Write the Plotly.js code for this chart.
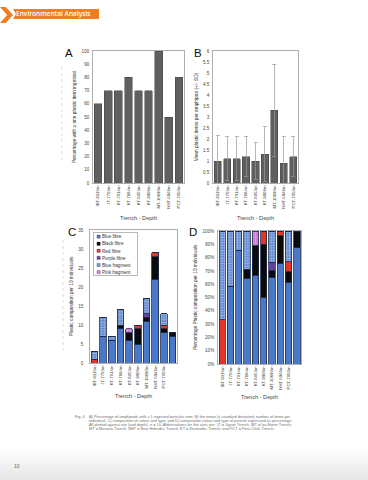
<!DOCTYPE html>
<html><head><meta charset="utf-8">
<script src="https://cdn.plot.ly/plotly-3.0.1.min.js"></script>
<style>
html,body{margin:0;padding:0;width:368px;height:480px;overflow:hidden;
 background:linear-gradient(to bottom,#ffffff 0px,#ffffff 448px,#e6e6e6 480px);}
#chart{position:absolute;left:0;top:0;width:368px;height:480px;}
#chev{position:absolute;left:0;top:7px;width:13px;height:16px;background:#ef7d22;
 clip-path:polygon(0 0,45% 0,100% 50%,45% 100%,0 100%,55% 50%);}
#hdr{position:absolute;left:13px;top:9px;width:86px;height:10px;background:#ef7d22;
 clip-path:polygon(0 0,100% 0,100% 100%,0 100%,3px 50%);}
#hdrtxt{position:absolute;left:16px;top:9px;height:10px;line-height:10px;color:#fff;
 font-family:"Open Sans",sans-serif;font-weight:600;font-size:6.6px;white-space:nowrap;}
</style></head>
<body>
<div id="chart"></div>
<div id="chev"></div><div id="hdr"></div><div id="hdrtxt">Environmental Analysis</div>
<script>
// ---------- data ----------
const sitesAB = ['IBT-9316m','JT-7703m','KT-7014m','KT-7884m','KT-8053m','KT-9908m','MT-10890m','NHT-6948m','PCT-7050m'];
const pctIngested = [60,70,70,80,70,70,100,50,80];
const meanItems = [1.0,1.1,1.1,1.2,1.0,1.3,3.3,0.9,1.2];
const sdItems = [1.15,1.0,1.0,0.9,0.82,1.25,2.1,1.2,0.9];

const sitesCD = ['IBT-9316m','JT-7703m','KT-7014m','KT-7884m','KT-8053m','KT-9908m','MT-10890m','NHT-6948m','PCT-7050m',' '];
const typeNames = ['Blue fibre','Black fibre','Red fibre','Purple fibre','Blue fragment','Pink fragment'];
const blueFibre   = [0,7,6,9,6,5,11,22,8,7];
const blackFibre  = [0,0,0,1,2,4,1,6,1,1];
const redFibre    = [1,0,0,0,0,1,0,1,1,0];
const purpleFibre = [0,0,0,0,0,0,1,0,0,0];
const blueFrag    = [2,5,1,4,0,0,4,0,3,0];
const pinkFrag    = [0,0,0,0,1,0,0,0,0,0];

const blueFibrePct   = [0,58.3,85.7,64.3,66.7,50,64.7,75.9,61.5,87.5];
const blackFibrePct  = [0,0,0,7.1,22.2,40,5.9,20.7,7.7,12.5];
const redFibrePct    = [33.3,0,0,0,0,10,0,3.4,7.7,0];
const purpleFibrePct = [0,0,0,0,0,0,5.9,0,0,0];
const blueFragPct    = [66.7,41.7,14.3,28.6,0,0,23.5,0,23.1,0];
const pinkFragPct    = [0,0,0,0,11.1,0,0,0,0,0];

// ---------- styles ----------
const W=368,H=480;
const px=v=>v/W, py=v=>1-v/H;
const FONT='Liberation Sans, Arial, sans-serif';
const tickF={family:FONT,size:4.6,color:'#444'};
const xtickF={family:FONT,size:4.3,color:'#444'};
const titleF={family:FONT,size:4.8,color:'#333'};
const grayBar={color:'#5f5f5f',line:{color:'#454545',width:0.5}};
const outl={color:'#1d2b4a',width:0.8};
const styles=[
 {color:'#4a78c8'},
 {color:'#0b0b0b'},
 {color:'#e2362a'},
 {color:'#6a3fa3'},
 {color:'#4a78c8',pattern:{shape:'.',fgcolor:'#ffffff',size:2.6,solidity:0.5,fillmode:'overlay'}},
 {color:'#c45ac4',pattern:{shape:'.',fgcolor:'#ffffff',size:2.6,solidity:0.5,fillmode:'overlay'}}
];
const cVals=[blueFibre,blackFibre,redFibre,purpleFibre,blueFrag,pinkFrag];
const dVals=[blueFibrePct,blackFibrePct,redFibrePct,purpleFibrePct,blueFragPct,pinkFragPct];

const traces=[];
traces.push({type:'bar',x:sitesAB,y:pctIngested,xaxis:'x',yaxis:'y',marker:grayBar,showlegend:false});
traces.push({type:'bar',x:sitesAB,y:meanItems,xaxis:'x2',yaxis:'y2',marker:grayBar,showlegend:false,
  error_y:{type:'data',array:sdItems,visible:true,color:'#9a9a9a',thickness:0.7,width:2}});
typeNames.forEach((n,i)=>{
  traces.push({type:'bar',name:n,x:sitesCD,y:cVals[i],xaxis:'x3',yaxis:'y3',
    marker:Object.assign({line:outl},styles[i]),showlegend:true});
});
typeNames.forEach((n,i)=>{
  traces.push({type:'bar',name:n,x:sitesCD,y:dVals[i],xaxis:'x4',yaxis:'y4',
    marker:Object.assign({line:outl},styles[i]),showlegend:false});
});

function xax(d,anchor,so){return {domain:d,anchor:anchor,type:'category',tickangle:-90,tickfont:xtickF,
  showline:true,mirror:true,linecolor:'#9a9a9a',linewidth:0.8,ticks:'',showgrid:false,fixedrange:true,
  title:{text:'Trench - Depth',font:{family:FONT,size:5.6,color:'#444'},standoff:so}};}
function yax(d,anchor,range,dtick,title,extra){return Object.assign({domain:d,anchor:anchor,range:range,dtick:dtick,
  tickfont:tickF,showline:true,mirror:true,linecolor:'#9a9a9a',linewidth:0.8,ticks:'',showgrid:false,
  zeroline:false,fixedrange:true,ticklabelstandoff:2,
  title:{text:title,font:titleF,standoff:4}},extra||{});}

const yA=[py(183),py(51)], yC=[py(363),py(230)], yD=[py(364),py(231)];
const layout={
 width:W,height:H,margin:{l:0,r:0,t:0,b:0},
 paper_bgcolor:'rgba(0,0,0,0)',plot_bgcolor:'#ffffff',
 barmode:'stack',bargap:0.24,
 font:{family:FONT},
 xaxis:xax([px(93),px(184)],'y',8),
 yaxis:yax(yA,'x',[0,100],10,'Percentage with ≥ one plastic item ingested'),
 xaxis2:xax([px(213),px(298)],'y2',8),
 yaxis2:yax(yA,'x2',[0,6],0.5,'Mean plastic items per amphipod (+/- SD)'),
 xaxis3:xax([px(90),px(177)],'y3',6),
 yaxis3:yax(yC,'x3',[0,35],5,'Plastic composition per 10 individuals',{ticklabelstandoff:5}),
 xaxis4:xax([px(218),px(301)],'y4',6),
 yaxis4:yax(yD,'x4',[0,100],10,'Percentage Plastic composition per 10 individuals',{ticksuffix:'%'}),
 legend:{x:px(93),y:py(232),xanchor:'left',yanchor:'top',bgcolor:'#ffffff',bordercolor:'#8a8a8a',borderwidth:0.6,
   font:{family:FONT,size:4.6,color:'#333'},tracegroupgap:0,traceorder:'normal'},
 shapes:[
  {type:'line',xref:'paper',yref:'paper',x0:px(62),x1:px(62),y0:py(67),y1:py(163),line:{color:'#c4c4c4',width:0.6,dash:'dot'}},
  {type:'line',xref:'paper',yref:'paper',x0:px(63),x1:px(63),y0:py(240),y1:py(353),line:{color:'#c4c4c4',width:0.6,dash:'dot'}}
 ],
 annotations:[]
};
const A=layout.annotations;
[['A',63,53],['B',192,53],['C',66,232],['D',187,232]].forEach(l=>{
 A.push({text:l[0],xref:'paper',yref:'paper',x:px(l[1]),y:py(l[2]),xanchor:'left',yanchor:'middle',showarrow:false,
   font:{family:FONT,size:11.5,color:'#111'}});
});
const capLines=[
 'A) Percentage of amphipods with ≥ 1 ingested particles item; B) the mean (± standard deviation) number of items per',
 'individual, C) composition of colour and type, and D) composition colour and type of particle expressed as percentage.',
 'All plotted against site (and depth), n = 10. Abbreviations for the sites are: JT = Japan Trench; IBT = Izu-Bonin Trench;',
 'MT = Mariana Trench; NHT = New Hebrides Trench; KT = Kermadec Trench; and PCT = Peru-Chile Trench.'
];
const capF={family:FONT,size:3.9,color:'#707070'};
A.push({text:'Fig. 4',xref:'paper',yref:'paper',x:px(73),y:py(416),xanchor:'left',yanchor:'middle',showarrow:false,font:capF});
capLines.forEach((t,i)=>A.push({text:t,xref:'paper',yref:'paper',x:px(87),y:py(416+i*4.2),xanchor:'left',yanchor:'middle',showarrow:false,font:capF}));
A.push({text:'10',xref:'paper',yref:'paper',x:px(12),y:py(466),xanchor:'left',yanchor:'middle',showarrow:false,
  font:{family:FONT,size:5,color:'#666'}});

Plotly.newPlot('chart',traces,layout,{staticPlot:true,displayModeBar:false}).then(()=>{
  const leg=document.querySelector('.legend');
  if(!leg) return;
  const tr=leg.querySelectorAll('.traces');
  tr.forEach((t,i)=>{
    t.setAttribute('transform','translate(0,'+(4.6+i*7.1)+')');
    const tx=t.querySelector('text.legendtext');
    if(tx){tx.setAttribute('x',9);tx.querySelectorAll('tspan').forEach(s=>{if(s.getAttribute('x')!==null)s.setAttribute('x',9);});}
    const lay=t.querySelector('g.layers');
    if(lay) lay.setAttribute('transform','scale(0.28)');
  });
  const bg=leg.querySelector('rect.bg');
  if(bg){bg.setAttribute('width',44);bg.setAttribute('height',43);}
});
</script>
</body></html>
